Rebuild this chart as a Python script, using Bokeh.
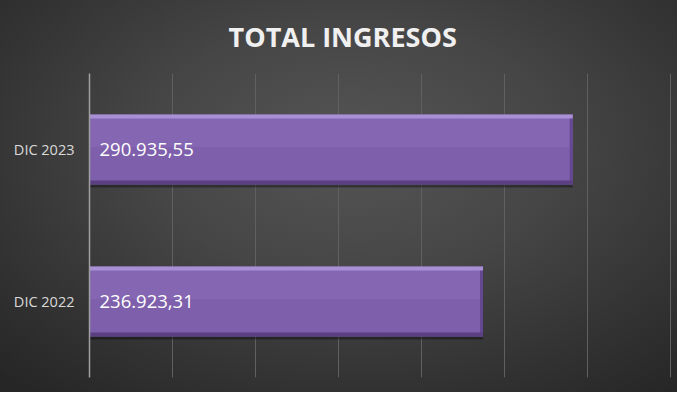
from bokeh.plotting import figure
from bokeh.models import ColumnDataSource, Range1d, FactorRange, SingleIntervalTicker
from bokeh.transform import dodge
from bokeh.embed import file_html
from bokeh.resources import INLINE
from bokeh.core.properties import value

# ---- data ----
categories = ["DIC 2022", "DIC 2023"]
ingresos = [236923.31, 290935.55]
title_text = "TOTAL INGRESOS"
x_max = 351000
grid_step = 50000


def fmt_es(v):
    s = f"{v:,.2f}"
    return s.replace(",", "X").replace(".", ",").replace("X", ".")


labels = [fmt_es(v) for v in ingresos]
bevel_w = 1800  # width of the right-end bevel in data units (~3px)
bevel_left = [v - bevel_w for v in ingresos]

src = ColumnDataSource(dict(cat=categories, val=ingresos, lab=labels, bl=bevel_left))

p = figure(
    width=677, height=392,
    y_range=FactorRange(factors=categories),
    x_range=Range1d(0, x_max),
    output_backend="svg", toolbar_location=None,
    min_border_left=89, min_border_right=5, min_border_top=71, min_border_bottom=15,
)

# background: radial gradient via CSS, transparent canvas
p.styles = {"background": "radial-gradient(ellipse 75% 80% at 52% 38%, #555555 0%, #464646 40%, #333333 75%, #262626 100%)"}
p.background_fill_alpha = 0
p.border_fill_alpha = 0
p.outline_line_color = None

# title
p.title.text = title_text
p.title.align = "left"
p.title.offset = 139
p.title.vertical_align = "top"
p.title.text_font = "Open Sans"
p.title.text_font_style = "bold"
p.title.text_font_size = "27px"
p.title.text_line_height = 1.0
p.title.text_color = "#f0f0f0"
p.title.standoff = 34

# axes / grid
p.xaxis.visible = False
p.xaxis.ticker = SingleIntervalTicker(interval=grid_step)
p.xgrid.ticker = SingleIntervalTicker(interval=grid_step)
p.xgrid.grid_line_color = "#606060"
p.xgrid.grid_line_width = 1
p.ygrid.grid_line_color = None

p.yaxis.axis_line_color = "#a0a0a0"
p.yaxis.axis_line_width = 1.5
p.yaxis.major_tick_line_color = None
p.yaxis.minor_tick_line_color = None
p.yaxis.major_label_text_font = "Open Sans"
p.yaxis.major_label_text_font_size = "14.5px"
p.yaxis.major_label_text_color = "#d9d9d9"
p.yaxis.major_label_standoff = 9

bh = 0.46
# shadow
p.hbar(y=dodge("cat", -0.02, range=p.y_range), left=0, right="val", height=bh,
       source=src, fill_color="black", fill_alpha=0.35, line_color=None)
# main bar
p.hbar(y="cat", left=0, right="val", height=bh, source=src,
       fill_color="#7e5fab", line_color=None)
# upper half slightly lighter (gloss)
p.hbar(y=dodge("cat", 0.115, range=p.y_range), left=0, right="val", height=0.2,
       source=src, fill_color="#8a6bb8", fill_alpha=0.6, line_color=None)
# right-end bevel
p.hbar(y="cat", left="bl", right="val", height=bh, source=src,
       fill_color="#634790", line_color=None)
# top bevel highlight
p.hbar(y=dodge("cat", 0.217, range=p.y_range), left=0, right="val", height=0.026,
       source=src, fill_color="#a990d4", line_color=None)
# bottom bevel shade
p.hbar(y=dodge("cat", -0.217, range=p.y_range), left=0, right="val", height=0.026,
       source=src, fill_color="#5a4082", line_color=None)

# value labels
p.text(x=0, y="cat", text="lab", source=src, x_offset=10,
       text_font=value("Open Sans"), text_font_size="18.5px", text_color="#ffffff",
       text_baseline="middle", text_align="left")

open("out.html", "w").write(file_html(p, INLINE))
